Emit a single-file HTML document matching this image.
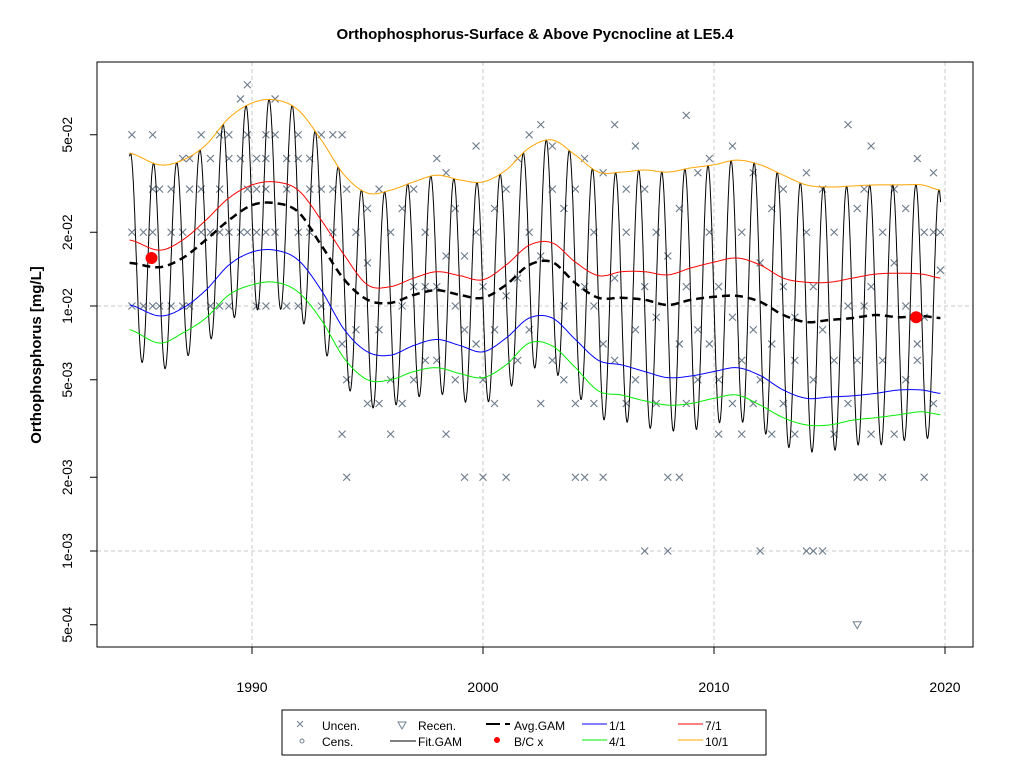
<!DOCTYPE html>
<html><head><meta charset="utf-8"><style>
body{margin:0;background:#fff;font-family:"Liberation Sans",Arial,sans-serif}
svg text{font-family:"Liberation Sans",Arial,sans-serif}
</style></head><body>
<svg id="chart" width="1024" height="768" xmlns="http://www.w3.org/2000/svg">
<rect width="1024" height="768" fill="#fff"/>
<text x="535" y="39" text-anchor="middle" font-size="15" font-weight="bold">Orthophosphorus-Surface &amp; Above Pycnocline at LE5.4</text>
<text transform="translate(41,355) rotate(-90)" text-anchor="middle" font-size="15" font-weight="bold">Orthophosphorus [mg/L]</text>
<g id="grid"></g>
<g id="series"></g>
<g id="axes"></g>
<rect x="97" y="62" width="876" height="585" fill="none" stroke="#000"/>
<g>
<rect x="282" y="710" width="484" height="45" fill="#fff" stroke="#000"/>
<g><path d="M297,721L303,727M297,727L303,721" stroke="#708090"/><text x="322" y="730" font-size="12">Uncen.</text></g>
<g><circle cx="302" cy="741" r="2" fill="none" stroke="#708090"/><text x="322" y="746" font-size="12">Cens.</text></g>
<g><path d="M398,722 L406,722 L402,729 Z" fill="none" stroke="#708090"/><text x="418" y="730" font-size="12">Recen.</text></g>
<g><line x1="390" y1="741" x2="416" y2="741" stroke="#000"/><text x="418" y="746" font-size="12">Fit.GAM</text></g>
<g><line x1="486" y1="724" x2="500" y2="724" stroke="#000" stroke-width="2"/><line x1="505" y1="724" x2="510" y2="724" stroke="#000" stroke-width="2"/><text x="514" y="730" font-size="12">Avg.GAM</text></g>
<g><circle cx="497" cy="740" r="3" fill="red"/><text x="514" y="746" font-size="12">B/C x</text></g>
<g><line x1="582" y1="724" x2="607" y2="724" stroke="blue"/><text x="609" y="730" font-size="12">1/1</text></g>
<g><line x1="582" y1="740" x2="607" y2="740" stroke="#00ee00"/><text x="609" y="746" font-size="12">4/1</text></g>
<g><line x1="678" y1="724" x2="703" y2="724" stroke="red"/><text x="705" y="730" font-size="12">7/1</text></g>
<g><line x1="678" y1="740" x2="703" y2="740" stroke="orange"/><text x="705" y="746" font-size="12">10/1</text></g>
</g>
</svg>
<script>
const knotYears=[1984.7,1986,1987,1988,1989,1990,1991,1992,1993,1994,1995,1996,1997,1998,1999,2000,2001,2002,2003,2004,2005,2006,2007,2008,2009,2010,2011,2012,2013,2014,2015,2016,2017,2018,2019,2019.8];
const oct1=[4.21,3.77,3.94,4.54,5.85,6.74,6.94,6.31,4.76,3.42,2.89,2.97,3.21,3.42,3.27,3.21,3.59,4.42,4.76,4.13,3.52,3.52,3.59,3.52,3.66,3.77,3.94,3.77,3.42,3.12,3.06,3.09,3.12,3.12,3.12,2.97];
const jul1=[1.86,1.69,1.86,2.24,2.76,3.12,3.21,2.97,2.24,1.61,1.22,1.20,1.30,1.38,1.33,1.28,1.47,1.77,1.81,1.51,1.33,1.38,1.38,1.34,1.43,1.51,1.57,1.47,1.30,1.25,1.25,1.30,1.35,1.36,1.35,1.30];
const avgGam=[1.50,1.44,1.57,1.86,2.24,2.58,2.63,2.42,1.77,1.28,1.06,1.03,1.11,1.16,1.11,1.08,1.22,1.47,1.51,1.24,1.08,1.08,1.06,1.01,1.06,1.09,1.10,1.04,0.919,0.86,0.877,0.893,0.919,0.90,0.91,0.893];
const jan1=[1.01,0.911,0.98,1.16,1.47,1.66,1.69,1.54,1.16,0.80,0.65,0.63,0.69,0.73,0.69,0.65,0.74,0.893,0.893,0.73,0.60,0.575,0.54,0.51,0.518,0.54,0.56,0.52,0.454,0.42,0.425,0.43,0.44,0.454,0.454,0.44];
const apr1=[0.80,0.706,0.776,0.893,1.11,1.22,1.25,1.14,0.877,0.61,0.50,0.50,0.54,0.56,0.53,0.51,0.575,0.706,0.687,0.56,0.45,0.433,0.41,0.394,0.40,0.42,0.433,0.394,0.35,0.327,0.327,0.342,0.35,0.36,0.37,0.36];
const fitTrough=[0.62,0.55,0.61,0.70,0.87,0.95,0.98,0.89,0.68,0.48,0.39,0.39,0.42,0.44,0.41,0.40,0.45,0.55,0.54,0.44,0.35,0.34,0.32,0.31,0.31,0.33,0.34,0.31,0.27,0.255,0.255,0.27,0.27,0.28,0.29,0.28];
const bcYears=[1985.65,2018.75];
const bcValues=[0.0157,0.0090];
const obsYears=[1984.8,1984.8,1984.8,1985.3,1985.3,1985.7,1985.7,1985.7,1985.7,1986,1986,1986.5,1986.5,1986.5,1987,1987,1987,1987.3,1987.3,1987.3,1987.8,1987.8,1987.8,1988.2,1988.2,1988.2,1988.6,1988.6,1988.6,1988.6,1989,1989,1989,1989,1989.5,1989.5,1989.5,1989.8,1989.8,1989.8,1989.8,1990.2,1990.2,1990.2,1990.2,1990.6,1990.6,1990.6,1990.6,1990.6,1991,1991,1991,1991.5,1991.5,1991.5,1992,1992,1992,1992,1992.5,1992.5,1992.5,1993,1993,1993,1993.5,1993.5,1993.5,1993.9,1993.9,1993.9,1994.1,1994.1,1994.1,1994.5,1994.5,1995,1995,1995,1995.5,1995.5,1995.5,1996,1996,1996,1996.5,1996.5,1996.5,1997,1997,1997,1997.5,1997.5,1997.5,1998,1998,1998,1998.4,1998.4,1998.4,1998.8,1998.8,1998.8,1999.2,1999.2,1999.2,1999.7,1999.7,1999.7,2000,2000,2000,2000.5,2000.5,2000.5,2001,2001,2001,2001.5,2001.5,2001.5,2002,2002,2002,2002.5,2002.5,2002.5,2003,2003,2003,2003.5,2003.5,2003.5,2004,2004,2004,2004.4,2004.4,2004.4,2004.8,2004.8,2004.8,2005.2,2005.2,2005.2,2005.7,2005.7,2005.7,2006.2,2006.2,2006.2,2006.6,2006.6,2006.6,2007,2007,2007,2007.5,2007.5,2007.5,2008,2008,2008,2008.5,2008.5,2008.5,2008.8,2008.8,2008.8,2009.3,2009.3,2009.3,2009.8,2009.8,2009.8,2010.2,2010.2,2010.2,2010.8,2010.8,2010.8,2011.2,2011.2,2011.2,2011.7,2011.7,2011.7,2012,2012,2012,2012.5,2012.5,2012.5,2013,2013,2013,2013.5,2013.5,2013.5,2014,2014,2014,2014.3,2014.3,2014.3,2014.7,2014.7,2014.7,2015.2,2015.2,2015.2,2015.8,2015.8,2015.8,2016.2,2016.2,2016.2,2016.5,2016.5,2016.5,2016.8,2016.8,2016.8,2017.3,2017.3,2017.3,2017.8,2017.8,2017.8,2018.3,2018.3,2018.3,2018.8,2018.8,2018.8,2019.1,2019.1,2019.1,2019.5,2019.5,2019.5,2019.8,2019.8];
const obsValues=[0.05,0.01,0.02,0.01,0.02,0.03,0.05,0.01,0.02,0.03,0.01,0.01,0.02,0.03,0.04,0.01,0.02,0.04,0.03,0.01,0.05,0.03,0.02,0.04,0.01,0.02,0.05,0.03,0.02,0.01,0.05,0.04,0.02,0.01,0.07,0.04,0.02,0.08,0.05,0.03,0.02,0.04,0.03,0.02,0.01,0.05,0.04,0.03,0.02,0.01,0.07,0.05,0.02,0.04,0.03,0.01,0.05,0.04,0.02,0.01,0.04,0.03,0.02,0.05,0.03,0.01,0.05,0.03,0.02,0.05,0.007,0.003,0.002,0.005,0.03,0.02,0.008,0.004,0.015,0.025,0.004,0.03,0.008,0.003,0.005,0.02,0.004,0.01,0.025,0.03,0.005,0.012,0.006,0.02,0.012,0.04,0.012,0.006,0.003,0.016,0.035,0.005,0.025,0.01,0.002,0.016,0.008,0.007,0.02,0.045,0.002,0.012,0.005,0.025,0.008,0.004,0.002,0.011,0.03,0.006,0.013,0.04,0.05,0.02,0.008,0.055,0.004,0.016,0.045,0.006,0.03,0.025,0.01,0.005,0.002,0.004,0.03,0.002,0.012,0.04,0.004,0.01,0.02,0.002,0.007,0.035,0.055,0.006,0.013,0.004,0.02,0.03,0.045,0.008,0.005,0.001,0.012,0.03,0.004,0.009,0.02,0.001,0.002,0.016,0.002,0.025,0.007,0.06,0.004,0.012,0.035,0.008,0.005,0.007,0.02,0.04,0.003,0.012,0.005,0.045,0.009,0.004,0.003,0.02,0.006,0.035,0.008,0.004,0.001,0.015,0.005,0.003,0.025,0.007,0.004,0.03,0.012,0.003,0.009,0.006,0.001,0.02,0.035,0.001,0.005,0.012,0.001,0.008,0.03,0.003,0.02,0.006,0.055,0.01,0.004,0.002,0.025,0.006,0.002,0.01,0.03,0.045,0.003,0.012,0.002,0.02,0.006,0.003,0.015,0.03,0.005,0.01,0.025,0.04,0.007,0.006,0.002,0.009,0.02,0.004,0.02,0.035,0.014,0.02];
const recenYears=[2016.2];
const recenValues=[0.0005];
const xTicks=[1990,2000,2010,2020];
const yTicks=[0.05,0.02,0.01,0.005,0.002,0.001,0.0005];
const yTickLabels=["5e-02","2e-02","1e-02","5e-03","2e-03","1e-03","5e-04"];
const gridY=[0.01,0.001];

const NS="http://www.w3.org/2000/svg";
function X(yr){return 252+(yr-1990)*23.1;}
function Y(v){return 306-245*(Math.log10(v)+2);}
function mk(tag,attrs,parent){const e=document.createElementNS(NS,tag);for(const k in attrs)e.setAttribute(k,attrs[k]);parent.appendChild(e);return e;}
const grid=document.getElementById('grid'),ser=document.getElementById('series'),axes=document.getElementById('axes');
xTicks.forEach(t=>{const l=mk('line',{x1:X(t),x2:X(t),y1:62,y2:647,stroke:'#c8c8c8','stroke-dasharray':'4,3'},grid);

});
gridY.forEach(v=>{const l=mk('line',{x1:97,x2:973,y1:Y(v),y2:Y(v),stroke:'#c8c8c8','stroke-dasharray':'4,3'},grid);

});
for(let i=0;i<obsYears.length;i++){const x=X(obsYears[i]),y=Y(obsValues[i]);
const p=mk('path',{d:`M${x-3.5},${y-3.5}L${x+3.5},${y+3.5}M${x-3.5},${y+3.5}L${x+3.5},${y-3.5}`,stroke:'#6a7a8a','stroke-width':1.1},ser);

}
for(let i=0;i<recenYears.length;i++){const x=X(recenYears[i]),y=Y(recenValues[i]);
const p=mk('path',{d:`M${x-4},${y-3}L${x+4},${y-3}L${x},${y+4}Z`,fill:'none',stroke:'#708090'},ser);

}
function interp(arr,t){const n=knotYears.length;const L=i=>Math.log10(arr[Math.max(0,Math.min(n-1,i))]*0.01);
if(t<=knotYears[0])return L(0);if(t>=knotYears[n-1])return L(n-1);
let i=0;while(knotYears[i+1]<t)i++;const f=(t-knotYears[i])/(knotYears[i+1]-knotYears[i]);
const p0=L(i-1),p1=L(i),p2=L(i+1),p3=L(i+2);
return 0.5*((2*p1)+(-p0+p2)*f+(2*p0-5*p1+4*p2-p3)*f*f+(-p0+3*p1-3*p2+p3)*f*f*f);}
let d='';for(let t=1984.7;t<=2019.81;t+=0.01){const hi=interp(oct1,t),lo=interp(fitTrough,t);const mid=(hi+lo)/2,amp=(hi-lo)/2;
const lv=mid+amp*Math.cos(2*Math.PI*(t-0.74));d+=(d?'L':'M')+X(t).toFixed(1)+','+Y(Math.pow(10,lv)).toFixed(1);}
const fit=mk('path',{d:d,fill:'none',stroke:'#000','stroke-width':1},ser);


function curve(arr,color,w,name,dash){let d='';for(let t=1984.7;t<=2019.81;t+=0.05){d+=(d?'L':'M')+X(t).toFixed(1)+','+Y(Math.pow(10,interp(arr,t))).toFixed(1);}
const p=mk('path',{d:d,fill:'none',stroke:color,'stroke-width':w},ser);if(dash)p.setAttribute('stroke-dasharray',dash);

}
curve(apr1,'#00ee00',1,'apr-1-line');
curve(jan1,'blue',1,'jan-1-line');
curve(jul1,'red',1,'jul-1-line');
curve(oct1,'orange',1,'oct-1-line');
curve(avgGam,'#000',2.5,'avg-gam-line','8,5');
for(let i=0;i<bcYears.length;i++){const c=mk('circle',{cx:X(bcYears[i]),cy:Y(bcValues[i]),r:6,fill:'red'},ser);

}
xTicks.forEach(t=>{mk('line',{x1:X(t),x2:X(t),y1:647,y2:654,stroke:'#000'},axes);
const tx=mk('text',{x:X(t),y:692,'text-anchor':'middle','font-size':14},axes);tx.textContent=t;

});
mk('line',{x1:X(1990),x2:X(2020),y1:647,y2:647,stroke:'#000'},axes);
yTicks.forEach((v,i)=>{mk('line',{x1:90,x2:97,y1:Y(v),y2:Y(v),stroke:'#000'},axes);
const tx=mk('text',{transform:`translate(72,${Y(v)}) rotate(-90)`,'text-anchor':'middle','font-size':14},axes);tx.textContent=yTickLabels[i];

});
</script>
</body></html>
